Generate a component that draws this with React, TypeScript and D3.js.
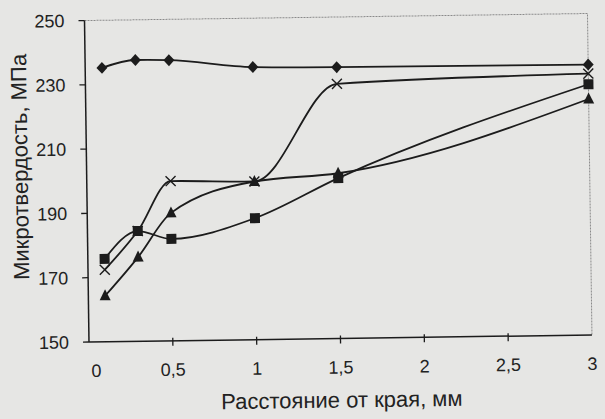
import React from 'react'
import * as d3 from 'd3'

// distance from the edge, mm
const DISTANCE = [0.1, 0.3, 0.5, 1, 1.5, 3]

// microhardness, MPa
const SERIES_DIAMOND = [235.2, 237.5, 237.3, 234.8, 234.4, 234.1]
const SERIES_CROSS = [172.4, 184.3, 199.7, 199.2, 229.2, 231.3]
const SERIES_SQUARE = [175.8, 184.3, 181.7, 187.8, 199.9, 228.0]
const SERIES_TRIANGLE = [164.3, 176.2, 189.8, 199.2, 201.4, 223.4]

const Y_TICKS = [150, 170, 190, 210, 230, 250]
const X_TICKS = [0, 0.5, 1, 1.5, 2, 2.5, 3]
const X_TICK_LABELS = ['0', '0,5', '1', '1,5', '2', '2,5', '3']

const W = 605
const H = 419
const left = 89
const right = 592
const top = 20.5
const bottom = 342
const ink = '#1c1c1c'
const font = '"Liberation Sans", Arial, sans-serif'

const x = d3.scaleLinear().domain([0, 3]).range([left, right])
const y = d3.scaleLinear().domain([150, 250]).range([bottom, top])

const line = d3
  .line<number>()
  .x((_, i) => x(DISTANCE[i]))
  .y((d) => y(d))
  .curve(d3.curveMonotoneX)

function Marker({ kind, cx, cy }: { kind: string; cx: number; cy: number }) {
  if (kind === 'diamond') {
    return <path d={`M${cx},${cy - 6}L${cx + 5.5},${cy}L${cx},${cy + 6}L${cx - 5.5},${cy}Z`} fill={ink} />
  }
  if (kind === 'square') {
    return <rect x={cx - 5} y={cy - 5} width={10} height={10} fill={ink} />
  }
  if (kind === 'triangle') {
    return <path d={`M${cx},${cy - 6.5}L${cx + 5.5},${cy + 4.5}L${cx - 5.5},${cy + 4.5}Z`} fill={ink} />
  }
  return (
    <path
      d={`M${cx - 5},${cy - 5}L${cx + 5},${cy + 5}M${cx + 5},${cy - 5}L${cx - 5},${cy + 5}`}
      stroke={ink}
      strokeWidth={1.4}
    />
  )
}

const SERIES = [
  { kind: 'diamond', values: SERIES_DIAMOND },
  { kind: 'cross', values: SERIES_CROSS },
  { kind: 'square', values: SERIES_SQUARE },
  { kind: 'triangle', values: SERIES_TRIANGLE },
]

export default function App() {
  return (
    <svg
      width={W}
      height={H}
      style={{ position: 'absolute', left: 0, top: 0, display: 'block' }}
      fontFamily={font}
    >
      <rect width={W} height={H} fill="#e6e6e4" />
      <g transform={`rotate(-0.8, ${left}, ${bottom})`}>
        {/* plot frame: light dotted top and right */}
        <path
          d={`M${left},${top}H${right}V${bottom}`}
          fill="none"
          stroke="#8a8a8a"
          strokeWidth={1}
          strokeDasharray="2,1"
        />
        {/* y axis */}
        <line x1={left} x2={left} y1={top} y2={bottom} stroke={ink} strokeWidth={1.5} />
        {Y_TICKS.map((t) => (
          <g key={t}>
            <line x1={left - 6} x2={left} y1={y(t)} y2={y(t)} stroke={ink} strokeWidth={1.3} />
            <text
              x={left - 20}
              y={y(t)}
              dy="0.35em"
              textAnchor="end"
              fontSize={18}
              fill="#222"
            >
              {t}
            </text>
          </g>
        ))}
        {/* x axis */}
        <line x1={left} x2={right} y1={bottom} y2={bottom} stroke={ink} strokeWidth={1.5} />
        {X_TICKS.map((t, i) => (
          <g key={t}>
            {i > 0 && i < X_TICKS.length - 1 && (
              <line x1={x(t)} x2={x(t)} y1={bottom - 3} y2={bottom + 5} stroke={ink} strokeWidth={1.3} />
            )}
            <text
              x={i === 0 ? x(t) + 7 : x(t)}
              y={bottom + 35}
              textAnchor="middle"
              fontSize={18}
              fill="#222"
            >
              {X_TICK_LABELS[i]}
            </text>
          </g>
        ))}
        <text x={341} y={411} textAnchor="middle" fontSize={22} fill="#222">
          Расстояние от края, мм
        </text>
        <text
          transform={`translate(30, 166) rotate(-90)`}
          textAnchor="middle"
          fontSize={22}
          fill="#222"
        >
          Микротвердость, МПа
        </text>

        {SERIES.map((s) => (
          <g key={s.kind}>
            <path d={line(s.values) || ''} fill="none" stroke={ink} strokeWidth={1.8} />
            {s.values.map((v, i) => (
              <Marker key={i} kind={s.kind} cx={x(DISTANCE[i])} cy={y(v)} />
            ))}
          </g>
        ))}
      </g>
    </svg>
  )
}
